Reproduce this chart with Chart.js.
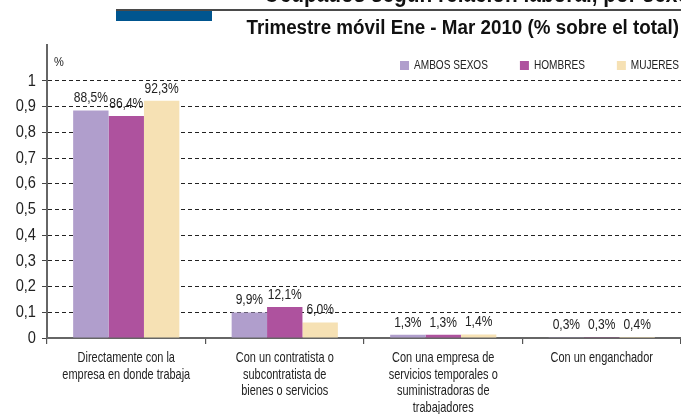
<!DOCTYPE html>
<html>
<head>
<meta charset="utf-8">
<script src="https://cdn.jsdelivr.net/npm/chart.js@4.4.1/dist/chart.umd.min.js"></script>
<style>
  html, body { margin: 0; padding: 0; background: #ffffff; }
  #wrap { width: 681px; height: 414px; position: relative; }
</style>
</head>
<body>
<div id="wrap"><canvas id="c" width="681" height="414"></canvas></div>
<script>
const categories = [
  ["Directamente con la", "empresa en donde trabaja"],
  ["Con un contratista o", "subcontratista de", "bienes o servicios"],
  ["Con una empresa de", "servicios temporales o", "suministradoras de", "trabajadores"],
  ["Con un enganchador"]
];
const seriesNames = ["AMBOS SEXOS", "HOMBRES", "MUJERES"];
const ambosSexos = [0.885, 0.099, 0.013, 0.003];
const hombres    = [0.864, 0.121, 0.013, 0.003];
const mujeres    = [0.923, 0.060, 0.014, 0.004];
const yTicks = [0, 0.1, 0.2, 0.3, 0.4, 0.5, 0.6, 0.7, 0.8, 0.9, 1];
const seriesColors = ["#B09ECC", "#AE529E", "#F6E1B4"];
const subtitle = "Trimestre móvil Ene - Mar 2010 (% sobre el total)";
const topTitle = "Ocupados según relación laboral, por sexo";
const yUnit = "%";

const FONT = "'Liberation Sans', Arial, sans-serif";

function fmtPct(v) {
  return (v * 100).toFixed(1).replace('.', ',') + '%';
}
function fmtTick(v) {
  const r = Math.round(v * 10) / 10;
  if (r === 0) return '0';
  if (r === 1) return '1';
  return r.toFixed(1).replace('.', ',');
}
function txt(ctx, s, x, y, o) {
  ctx.save();
  ctx.font = o.font;
  ctx.textAlign = o.align || 'left';
  ctx.textBaseline = o.baseline || 'middle';
  ctx.fillStyle = o.color || '#222';
  ctx.translate(x, y);
  ctx.scale(o.sx || 1, 1);
  ctx.fillText(s, 0, 0);
  ctx.restore();
}
function txtWidth(ctx, s, font, sx) {
  ctx.save(); ctx.font = font;
  const w = ctx.measureText(s).width * sx;
  ctx.restore();
  return w;
}

const decorPlugin = {
  id: 'decor',
  afterDatasetsDraw(chart) {
    const ctx = chart.ctx;
    chart.data.datasets.forEach((ds, di) => {
      const meta = chart.getDatasetMeta(di);
      meta.data.forEach((bar, i) => {
        txt(ctx, fmtPct(ds.data[i]), bar.x, bar.y - 5,
            { font: "14px " + FONT, sx: 0.86, align: 'center', baseline: 'bottom', color: '#222' });
      });
    });
  },
  afterDraw(chart) {
    const ctx = chart.ctx;
    const area = chart.chartArea;
    const xs = chart.scales.x, ys = chart.scales.y;

    // y tick labels
    yTicks.forEach(v => {
      txt(ctx, fmtTick(v), 36, ys.getPixelForValue(v),
          { font: "17px " + FONT, sx: 0.86, align: 'right', baseline: 'middle', color: '#222' });
    });
    // x category labels
    categories.forEach((lines, i) => {
      const cx = xs.getPixelForTick(i);
      lines.forEach((ln, k) => {
        txt(ctx, ln, cx, area.bottom + 20 + k * 16.5,
            { font: "15px " + FONT, sx: 0.73, align: 'center', baseline: 'middle', color: '#222' });
      });
    });

    // clipped top title
    txt(ctx, topTitle, 690, 2, { font: "bold 26px " + FONT, sx: 0.8, align: 'right', baseline: 'alphabetic', color: '#111' });
    ctx.save();
    ctx.fillStyle = "#ffffff";
    ctx.fillRect(0, 7, 681, 4);
    // rule line
    ctx.fillStyle = "#4a4a4a";
    ctx.fillRect(116, 9, 565, 2);
    // blue block
    ctx.fillStyle = "#00558F";
    ctx.fillRect(116, 11, 96, 10);
    ctx.restore();
    // subtitle
    txt(ctx, subtitle, 679, 28, { font: "bold 20px " + FONT, sx: 0.94, align: 'right', baseline: 'middle', color: '#111' });
    // % unit
    txt(ctx, yUnit, 54, 62, { font: "13px " + FONT, sx: 0.85, align: 'left', baseline: 'middle', color: '#222' });
    // legend (right aligned)
    const lf = "12.6px " + FONT, lsx = 0.8;
    let end = 679;
    const legY = 66;
    for (let i = seriesNames.length - 1; i >= 0; i--) {
      const w = txtWidth(ctx, seriesNames[i], lf, lsx);
      const tx = end - w;
      txt(ctx, seriesNames[i], tx, legY, { font: lf, sx: lsx, align: 'left', baseline: 'middle', color: '#222' });
      ctx.save();
      ctx.fillStyle = seriesColors[i];
      ctx.fillRect(tx - 14, legY - 5, 9, 9);
      ctx.restore();
      end = tx - 14 - 32;
    }
  }
};

new Chart(document.getElementById('c'), {
  type: 'bar',
  data: {
    labels: categories,
    datasets: [
      { label: seriesNames[0], data: ambosSexos, backgroundColor: seriesColors[0] },
      { label: seriesNames[1], data: hombres, backgroundColor: seriesColors[1] },
      { label: seriesNames[2], data: mujeres, backgroundColor: seriesColors[2] }
    ]
  },
  options: {
    responsive: false,
    animation: false,
    devicePixelRatio: 1,
    layout: { padding: { top: 45, right: 0, left: 0, bottom: 0 } },
    datasets: { bar: { categoryPercentage: 0.67, barPercentage: 1.0 } },
    plugins: { legend: { display: false }, title: { display: false }, tooltip: { enabled: false } },
    scales: {
      x: {
        afterFit(scale) { scale.height = 76; },
        grid: {
          offset: true,
          drawOnChartArea: false,
          drawTicks: true,
          tickLength: 6,
          color: "#555",
          lineWidth: 1.2
        },
        border: { display: true, color: "#666", width: 2 },
        ticks: {
          padding: 4,
          color: "rgba(0,0,0,0)",
          font: { family: FONT, size: 12 },
          maxRotation: 0,
          autoSkip: false
        }
      },
      y: {
        min: 0,
        max: 1.14,
        afterFit(scale) { scale.width = 47; },
        afterBuildTicks(scale) { scale.ticks = yTicks.map(v => ({ value: v })); },
        grid: {
          color: "#222",
          lineWidth: 1,
          borderDash: [4, 3],
          drawTicks: true,
          tickLength: 5,
          tickColor: "#444",
          tickBorderDash: []
        },
        border: { display: true, color: "#666", width: 2, dash: [4, 3] },
        ticks: {
          padding: 6,
          color: "rgba(0,0,0,0)",
          font: { family: FONT, size: 12 },
          callback: (v) => fmtTick(v)
        }
      }
    }
  },
  plugins: [decorPlugin]
});
</script>
</body>
</html>
